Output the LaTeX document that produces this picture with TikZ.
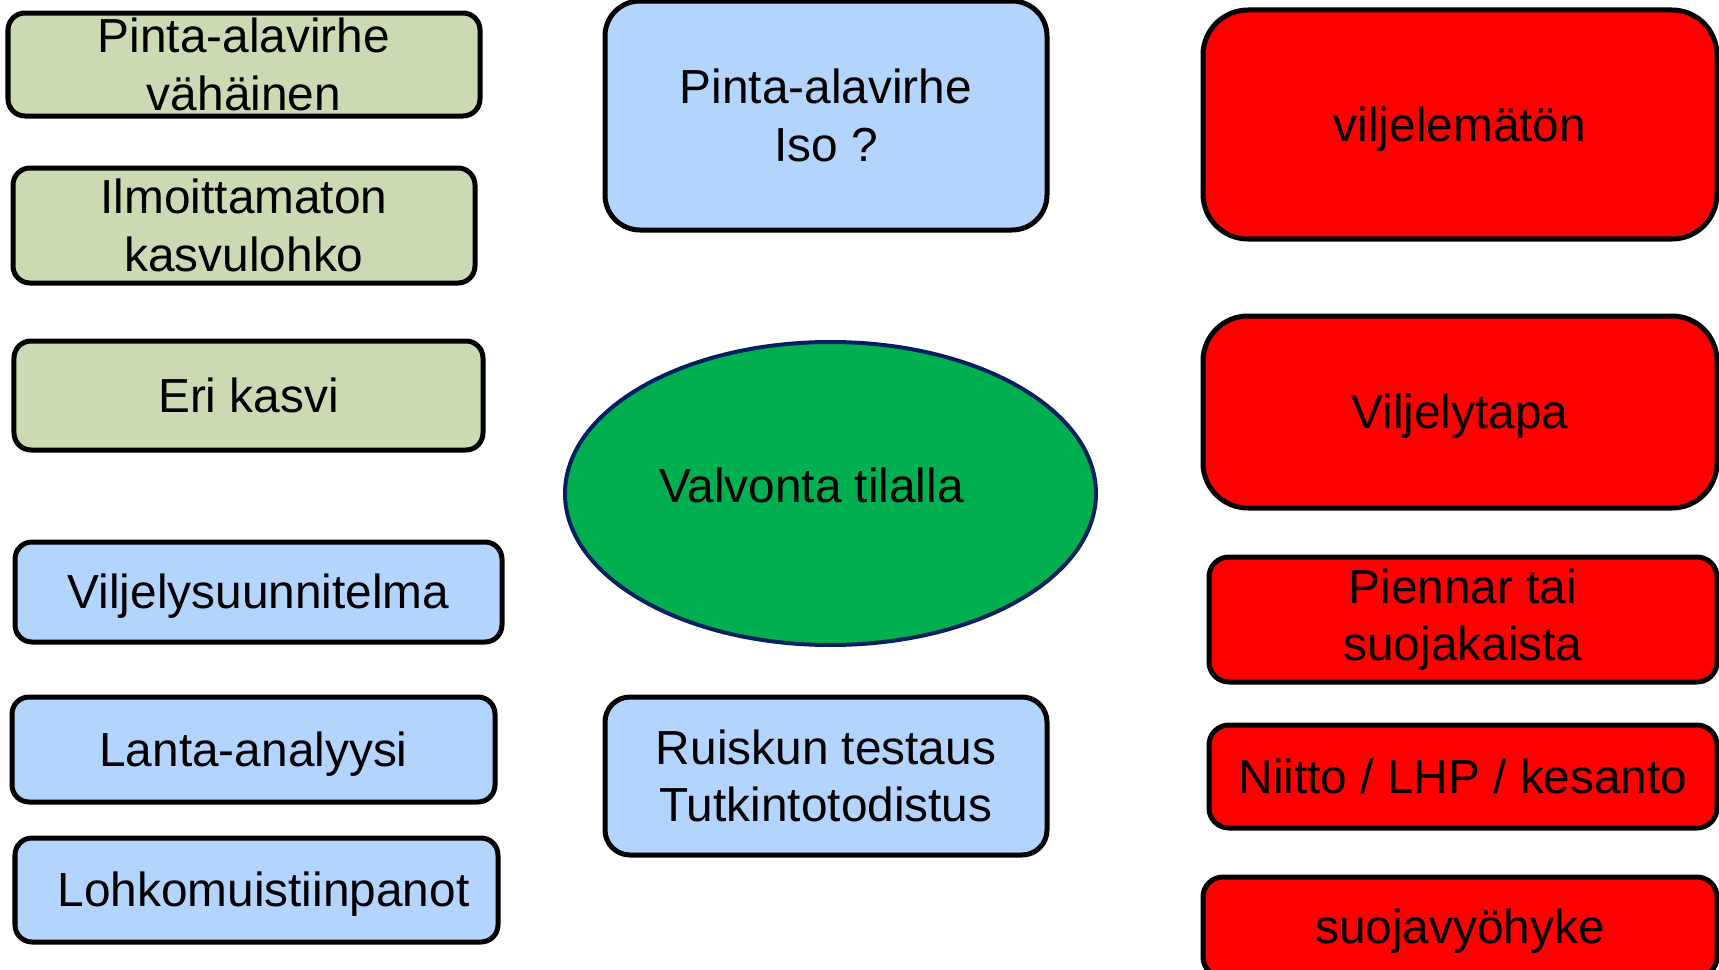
\documentclass[tikz,border=0pt]{standalone}
\usepackage{fontspec}
\setmainfont{Liberation Sans}
\usepackage{xcolor}
\usepackage{tikz}
\usetikzlibrary{shapes.geometric}

\definecolor{minorgreen}{RGB}{204,218,179}
\definecolor{docblue}{RGB}{179,212,252}
\definecolor{visitgreen}{RGB}{0,176,80}
\definecolor{visitnavy}{RGB}{0,32,96}

\begin{document}
\begin{tikzpicture}[
        minor/.style={draw, line width=0.05cm, rounded corners=0.17cm, fill=minorgreen, inner sep=0pt, align=center},
        docbox/.style={draw, line width=0.05cm, rounded corners=0.17cm, fill=docblue, inner sep=0pt, align=center},
        severe/.style={draw, line width=0.05cm, rounded corners=0.2cm, fill=red, inner sep=0pt, align=center},
        visit/.style={ellipse, draw=visitnavy, line width=0.04cm, fill=visitgreen, inner sep=0pt},
        oneline/.style={text height=12.3pt, text depth=2.9pt},
        every node/.style={font=\fontsize{13.6pt}{16.3pt}\selectfont}
      ]
        \useasboundingbox (0,0) rectangle (17.19,-9.70);

        % Left column: smaller findings
        \node[minor, minimum width=4.72cm, minimum height=1.03cm] (smallerror) at (2.44,-0.645) {Pinta-alavirhe\\vähäinen};
        \node[minor, minimum width=4.62cm, minimum height=1.15cm] (unreported) at (2.44,-2.255) {Ilmoittamaton\\kasvulohko};
        \node[minor, oneline, minimum width=4.69cm, minimum height=1.09cm] (othercrop) at (2.485,-3.955) {Eri kasvi};

        % Left column: documents
        \node[docbox, oneline, minimum width=4.87cm, minimum height=1.00cm] (plan) at (2.585,-5.92) {Viljelysuunnitelma};
        \node[docbox, oneline, minimum width=4.83cm, minimum height=1.05cm] (manure) at (2.535,-7.495) {Lanta-analyysi};
        \node[docbox, oneline, minimum width=4.83cm, minimum height=1.04cm] (notes) at (2.565,-8.90) {\hspace*{0.14cm}Lohkomuistiinpanot};

        % Middle column
        \node[docbox, rounded corners=0.35cm, minimum width=4.42cm, minimum height=2.29cm] (bigerror) at (8.26,-1.155) {Pinta-alavirhe\\Iso ?};
        \node[visit, oneline, minimum width=5.31cm, minimum height=3.03cm] (visit) at (8.305,-4.935) {\raisebox{0.08cm}{Valvonta tilalla}\hspace*{0.38cm}};
        \node[docbox, rounded corners=0.25cm, minimum width=4.42cm, minimum height=1.58cm] (sprayer) at (8.26,-7.76) {Ruiskun testaus\\Tutkintotodistus};

        % Right column: serious findings
        \node[severe, oneline, rounded corners=0.45cm, minimum width=5.14cm, minimum height=2.29cm] (uncultivated) at (14.60,-1.245) {viljelemätön};
        \node[severe, oneline, rounded corners=0.45cm, minimum width=5.14cm, minimum height=1.92cm] (method) at (14.60,-4.12) {Viljelytapa};
        \node[severe, minimum width=5.08cm, minimum height=1.25cm] (margin) at (14.63,-6.195) {Piennar tai\\suojakaista};
        \node[severe, oneline, minimum width=5.08cm, minimum height=1.03cm] (mowing) at (14.63,-7.765) {Niitto / LHP / kesanto};
        \node[severe, oneline, minimum width=5.14cm, minimum height=1.00cm] (bufferzone) at (14.60,-9.27) {suojavyöhyke};

    \end{tikzpicture}
\end{document}
